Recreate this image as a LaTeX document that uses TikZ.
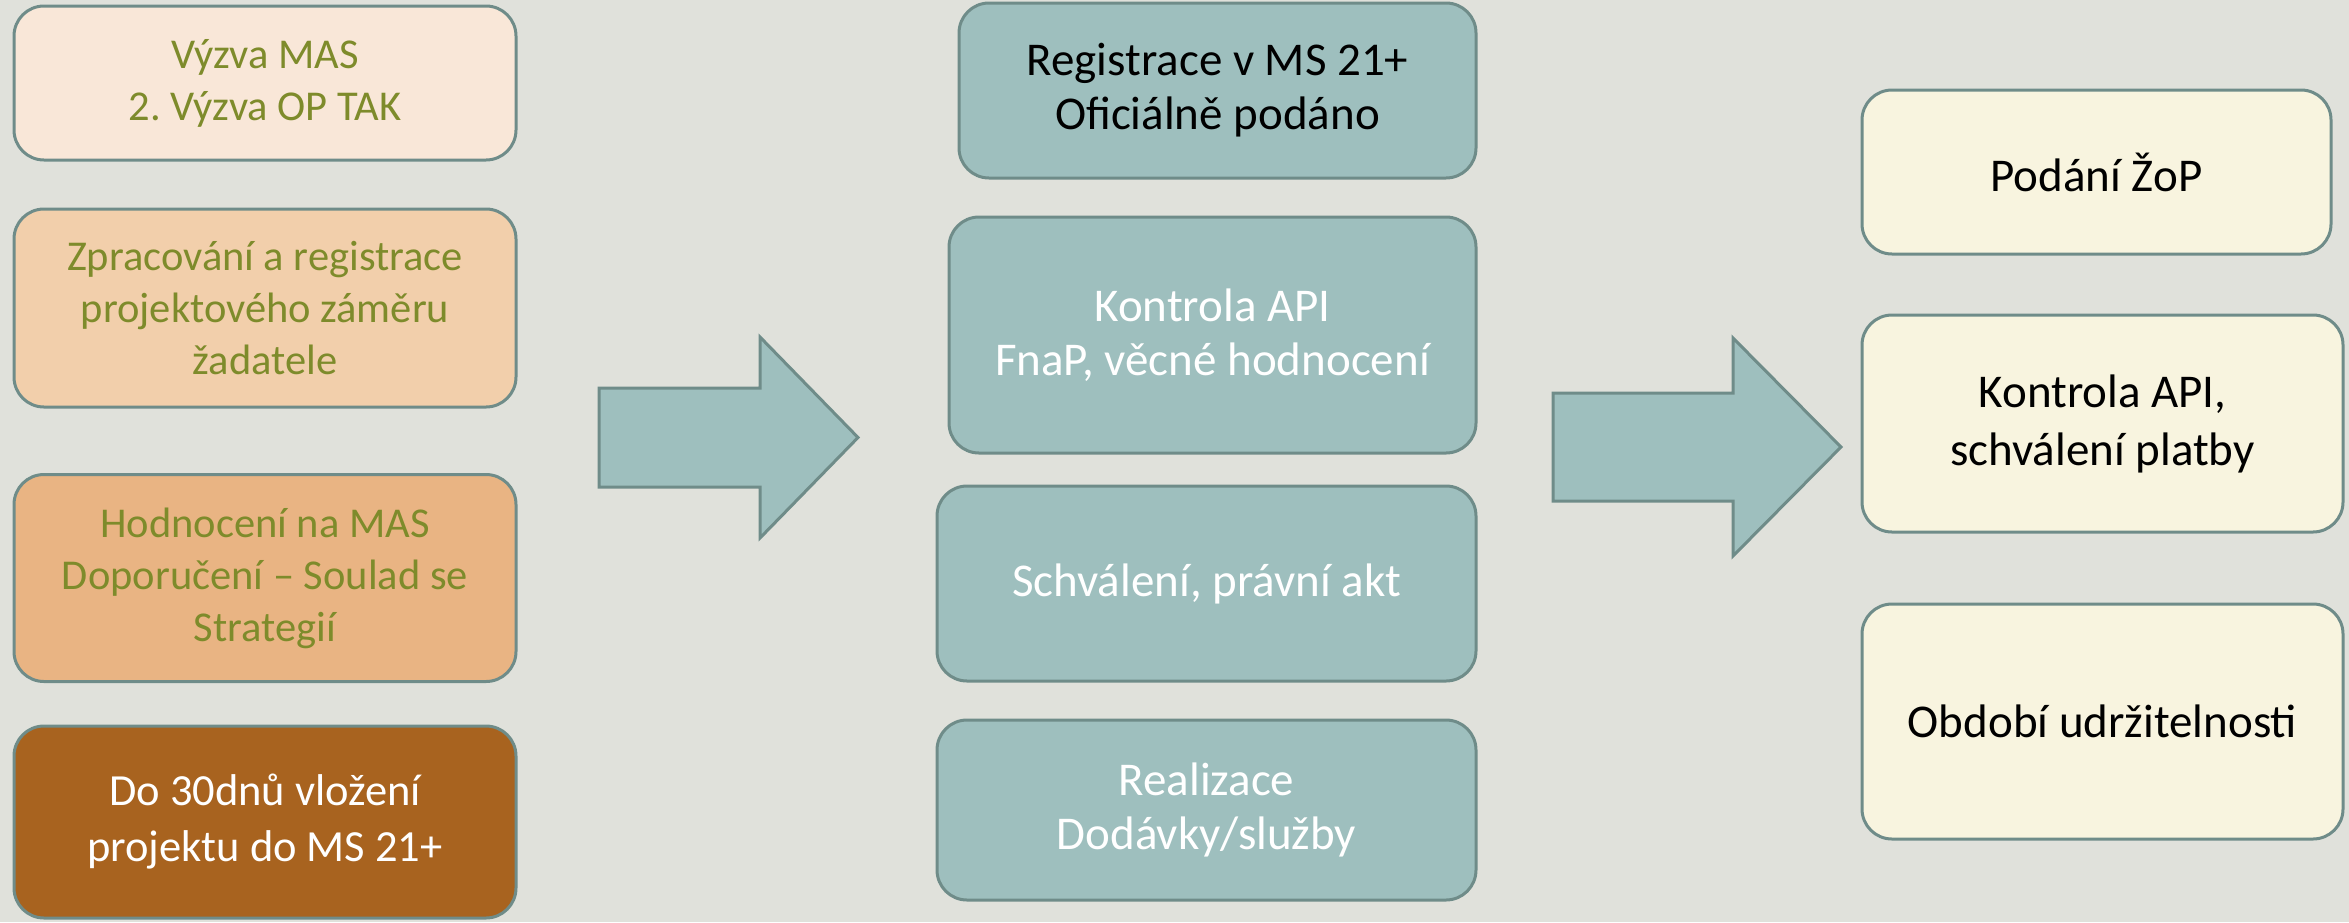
\documentclass[tikz,border=0pt]{standalone}
\usepackage{fontspec}
\setmainfont{Carlito}
\frenchspacing
\definecolor{bg}{HTML}{E0E1DB}
\definecolor{edge}{HTML}{6F8C89}
\definecolor{olive}{HTML}{7E8B2B}
\definecolor{f1}{HTML}{F9E7D8}
\definecolor{f2}{HTML}{F2CFAB}
\definecolor{f3}{HTML}{E9B483}
\definecolor{f4}{HTML}{A8631F}
\definecolor{teal}{HTML}{9EBFBE}
\definecolor{cream}{HTML}{F8F4DF}
\tikzset{
  box/.style={draw=edge, line width=3pt, rounded corners=30pt, align=center,
    inner sep=0pt},
  lefttxt/.style={text=olive, font=\fontsize{42.5}{52}\selectfont},
  midtxt/.style={font=\fontsize{47}{54}\selectfont},
  righttxt/.style={text=black, font=\fontsize{47}{58}\selectfont},
  blockarrow/.style={draw=edge, line width=3pt, fill=teal, line join=miter}
}
\begin{document}
\begin{tikzpicture}[x=1pt,y=-1pt]
\fill[bg] (0,0) rectangle (2349,922);
\useasboundingbox (0,0) rectangle (2349,922);
% left column
\node[box, fill=f1, lefttxt, minimum width=502, minimum height=154] (l1) at (265,83)
  {Výzva MAS\\2. Výzva OP TAK};
\node[box, fill=f2, lefttxt, minimum width=502, minimum height=198] (l2) at (265,308)
  {Zpracování a registrace\\projektového záměru\\žadatele};
\node[box, fill=f3, lefttxt, minimum width=502, minimum height=207] (l3) at (265,578)
  {Hodnocení na MAS\\Doporučení – Soulad se\\Strategií};
\node[box, fill=f4, text=white, font=\fontsize{44.5}{56}\selectfont,
  minimum width=502, minimum height=192] (l4) at (265,822)
  {Do 30dnů vložení\\projektu do MS 21+};
% middle column
\node[box, fill=teal, midtxt, text=black, minimum width=517, minimum height=175] (m1) at (1217.5,90.5)
  {Registrace v MS 21+\\Oficiálně podáno};
\node[box, fill=teal, midtxt, text=white, minimum width=527, minimum height=236] (m2) at (1212.5,335)
  {Kontrola API\\FnaP, věcné hodnocení};
\node[box, fill=teal, midtxt, text=white, minimum width=539, minimum height=195] (m3) at (1206.5,583.5)
  {Schválení, právní akt};
\node[box, fill=teal, midtxt, text=white, minimum width=539, minimum height=180] (m4) at (1206.5,810)
  {Realizace\\Dodávky/služby};
% right column
\node[box, fill=cream, righttxt, minimum width=469, minimum height=164] (r1) at (2096.5,172)
  {Podání ŽoP};
\node[box, fill=cream, righttxt, minimum width=481, minimum height=217] (r2) at (2102.5,423.5)
  {Kontrola API,\\schválení platby};
\node[box, fill=cream, righttxt, minimum width=481, minimum height=235] (r3) at (2102.5,721.5)
  {Období udržitelnosti};
% block arrows
\draw[blockarrow] (599,388) -- (760,388) -- (760,337) -- (858,437.5) -- (760,538)
  -- (760,487) -- (599,487) -- cycle;
\draw[blockarrow] (1553,393) -- (1733,393) -- (1733,338) -- (1841,447) -- (1733,556)
  -- (1733,501) -- (1553,501) -- cycle;
\end{tikzpicture}
\end{document}
